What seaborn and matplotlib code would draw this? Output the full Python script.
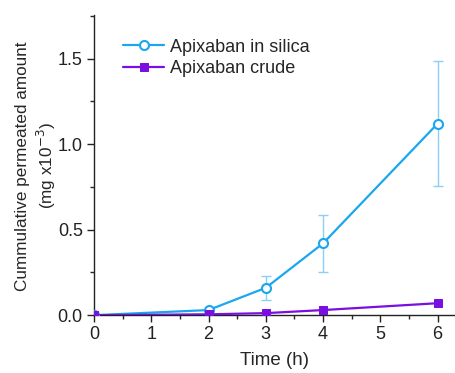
import matplotlib
matplotlib.use("Agg")
import matplotlib.pyplot as plt
import seaborn as sns
import pandas as pd
import numpy as np
from matplotlib.ticker import MultipleLocator

time_h = [0, 2, 3, 4, 6]
silica = [0.0, 0.03, 0.16, 0.42, 1.12]
silica_err = [0.0, 0.0, 0.07, 0.165, 0.365]
crude = [0.0, 0.005, 0.012, 0.03, 0.07]

c_silica = "#1AA7EE"
c_silica_err = "#8CCFF5"
c_crude = "#7A10E0"

sns.set_theme(style="ticks")
plt.rcParams['font.family'] = ['Liberation Sans', 'DejaVu Sans']

fig = plt.figure(figsize=(4.56, 3.73), dpi=100)
ax = fig.add_axes([0.206, 0.155, 0.794, 0.805])

ax.errorbar(time_h, silica, yerr=silica_err, fmt='none', ecolor=c_silica_err,
            elinewidth=1.0, capsize=3.5, capthick=1.0, zorder=1)

df1 = pd.DataFrame({"t": time_h, "v": silica})
df2 = pd.DataFrame({"t": time_h, "v": crude})
sns.lineplot(data=df1, x="t", y="v", ax=ax, color=c_silica, marker="o",
             markersize=6.5, markerfacecolor="white", markeredgecolor=c_silica,
             markeredgewidth=1.5, linewidth=1.6, label="Apixaban in silica", zorder=3)
sns.lineplot(data=df2, x="t", y="v", ax=ax, color=c_crude, marker="s",
             markersize=6.3, markeredgecolor=c_crude, linewidth=1.6,
             label="Apixaban crude", zorder=4)

ax.set_xlim(0, 6.32)
ax.set_ylim(0, 1.755)
ax.xaxis.set_major_locator(MultipleLocator(1))
ax.xaxis.set_minor_locator(MultipleLocator(0.5))
ax.yaxis.set_major_locator(MultipleLocator(0.5))
ax.yaxis.set_minor_locator(MultipleLocator(0.25))
ax.yaxis.set_major_formatter(matplotlib.ticker.FormatStrFormatter('%.1f'))
ax.tick_params(which='major', direction='out', length=5, width=1.0, labelsize=13, colors='#222222', pad=3)
ax.tick_params(which='minor', direction='out', length=3, width=1.0)
for s in ['top', 'right']:
    ax.spines[s].set_visible(False)
for s in ['left', 'bottom']:
    ax.spines[s].set_color('#222222')
    ax.spines[s].set_linewidth(1.0)

ax.set_xlabel("Time (h)", fontsize=13.5, labelpad=6)
ax.set_ylabel("Cummulative permeated amount\n(mg x10$^{-3}$)", fontsize=12.3, linespacing=1.3)
ax.yaxis.set_label_coords(-0.098, 0.497)

leg = ax.legend(loc='upper left', bbox_to_anchor=(0.035, 0.975), frameon=False, fontsize=13,
                handlelength=2.3, handletextpad=0.3, labelspacing=0.25)

fig.savefig("out.png", dpi=100)
